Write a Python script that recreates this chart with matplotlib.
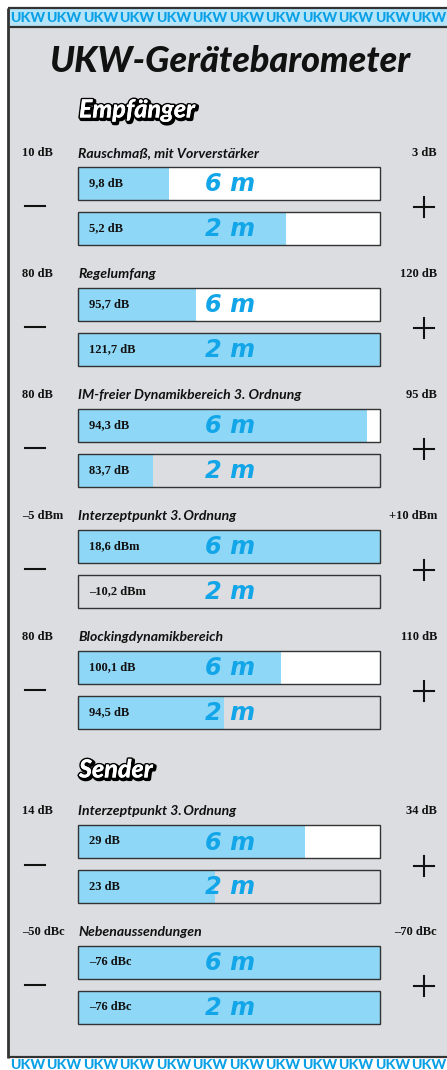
import matplotlib
matplotlib.use("Agg")
import matplotlib.pyplot as plt
import matplotlib.patheffects as pe

# ---- data ----
rx_labels = ["Rauschmaß, mit Vorverstärker", "Regelumfang",
             "IM-freier Dynamikbereich 3. Ordnung", "Interzeptpunkt 3.\u2009Ordnung",
             "Blockingdynamikbereich"]
rx_lo = ["10 dB", "80 dB", "80 dB", "–5 dBm", "80 dB"]
rx_hi = ["3 dB", "120 dB", "95 dB", "+10 dBm", "110 dB"]
rx_val6 = ["9,8 dB", "95,7 dB", "94,3 dB", "18,6 dBm", "100,1 dB"]
rx_val2 = ["5,2 dB", "121,7 dB", "83,7 dB", "–10,2 dBm", "94,5 dB"]
rx_fill6 = [0.30, 0.39, 0.957, 1.0, 0.672]
rx_fill2 = [0.69, 1.0, 0.247, 0.0, 0.482]
rx_white2 = [True, True, False, False, False]

tx_labels = ["Interzeptpunkt 3.\u2009Ordnung", "Nebenaussendungen"]
tx_lo = ["14 dB", "–50 dBc"]
tx_hi = ["34 dB", "–70 dBc"]
tx_val6 = ["29 dB", "–76 dBc"]
tx_val2 = ["23 dB", "–76 dBc"]
tx_fill6 = [0.75, 1.0]
tx_fill2 = [0.455, 1.0]
tx_white2 = [False, False]

# ---- style ----
W, H = 447, 1070
panel = "#dcdde0"
fill_c = "#8fd7f6"
blue_txt = "#12a5e8"
edge = "#333333"
sans = ["Lato", "DejaVu Sans"]
serif = ["Liberation Serif", "DejaVu Serif"]
PT = 0.72  # px -> pt at 100 dpi

fig = plt.figure(figsize=(W / 100, H / 100), dpi=100)
fig.patch.set_facecolor("white")
ax = fig.add_axes([0, 0, 1, 1])
ax.set_xlim(0, W)
ax.set_ylim(H, 0)
ax.axis("off")

# panel background and frame
ax.add_patch(plt.Rectangle((8, 8), W, 1049, facecolor=panel, edgecolor="none"))
ax.add_patch(plt.Rectangle((8, 8), W, 18, facecolor="#b5e4f8", edgecolor="none"))
for yy in (8, 26.5, 1057):
    ax.plot([8, W], [yy, yy], color=edge, lw=1.6, solid_capstyle="butt")
ax.plot([8, 8], [7.5, 1057.5], color=edge, lw=2.0, solid_capstyle="butt")

# UKW strips
for k in range(12):
    x = 10 + k * 36.5
    ax.text(x, 17.5, "UKW", family=sans, weight="black", size=14 * PT,
            color="#0aa0e6", ha="left", va="center")
    ax.text(x, 1065, "UKW", family=sans, weight="black", size=14 * PT,
            color="#0aa0e6", ha="left", va="center")

# title
ax.text(230, 62, "UKW-Gerätebarometer", family=sans, weight="black",
        style="italic", size=36 * PT, color="#111111", ha="center", va="center")


def header(y, s):
    ax.text(80.5, y + 1.5, s, family=sans, weight="black", style="italic",
            size=25 * PT, color="black", ha="left", va="center",
            path_effects=[pe.withStroke(linewidth=3, foreground="black")])
    ax.text(79, y, s, family=sans, weight="black", style="italic",
            size=25 * PT, color="white", ha="left", va="center",
            path_effects=[pe.withStroke(linewidth=2.2, foreground="black"),
                          pe.Normal()])


BX, BW, BH = 78, 302, 33


def group(top, label, lo, hi, v6, v2, f6, f2, white2):
    ax.text(22, top - 14, lo, family=serif, weight="bold", size=12.5 * PT,
            ha="left", va="center", color="#111111")
    ax.text(437, top - 14, hi, family=serif, weight="bold", size=12.5 * PT,
            ha="right", va="center", color="#111111")
    ax.text(78, top - 14, label, family=sans, style="italic", weight="bold",
            size=14 * PT, ha="left", va="center", color="#111111")
    rows = [(top, v6, f6, True, "6 m"), (top + 45, v2, f2, white2, "2 m")]
    for y0, v, f, wbg, band in rows:
        yc = y0 + BH / 2
        ax.barh(yc, BW, left=BX, height=BH,
                color="white" if wbg else panel, edgecolor="none")
        ax.barh(yc, f * BW, left=BX, height=BH, color=fill_c, edgecolor="none")
        ax.barh(yc, BW, left=BX, height=BH, color="none", edgecolor=edge, lw=1.0)
        ax.text(89, yc, v, family=serif, weight="bold", size=12.5 * PT,
                ha="left", va="center", color="#111111")
        ax.text(230, yc + 1, band, family="DejaVu Sans", weight="bold",
                style="italic", size=24 * PT, ha="center", va="center",
                color=blue_txt)
    ym = top + 39.5
    ax.plot([25, 45], [ym, ym], color="#111111", lw=1.5)
    ax.plot([414, 434], [ym + 1, ym + 1], color="#111111", lw=1.5)
    ax.plot([424, 424], [ym - 9, ym + 11], color="#111111", lw=1.5)


header(110, "Empfänger")
for i in range(len(rx_labels)):
    group(166.7 + i * 121, rx_labels[i], rx_lo[i], rx_hi[i], rx_val6[i],
          rx_val2[i], rx_fill6[i], rx_fill2[i], rx_white2[i])

header(770, "Sender")
for i in range(len(tx_labels)):
    group(825 + i * 120.7, tx_labels[i], tx_lo[i], tx_hi[i], tx_val6[i],
          tx_val2[i], tx_fill6[i], tx_fill2[i], tx_white2[i])

fig.savefig("out.png", dpi=100, facecolor="white")
